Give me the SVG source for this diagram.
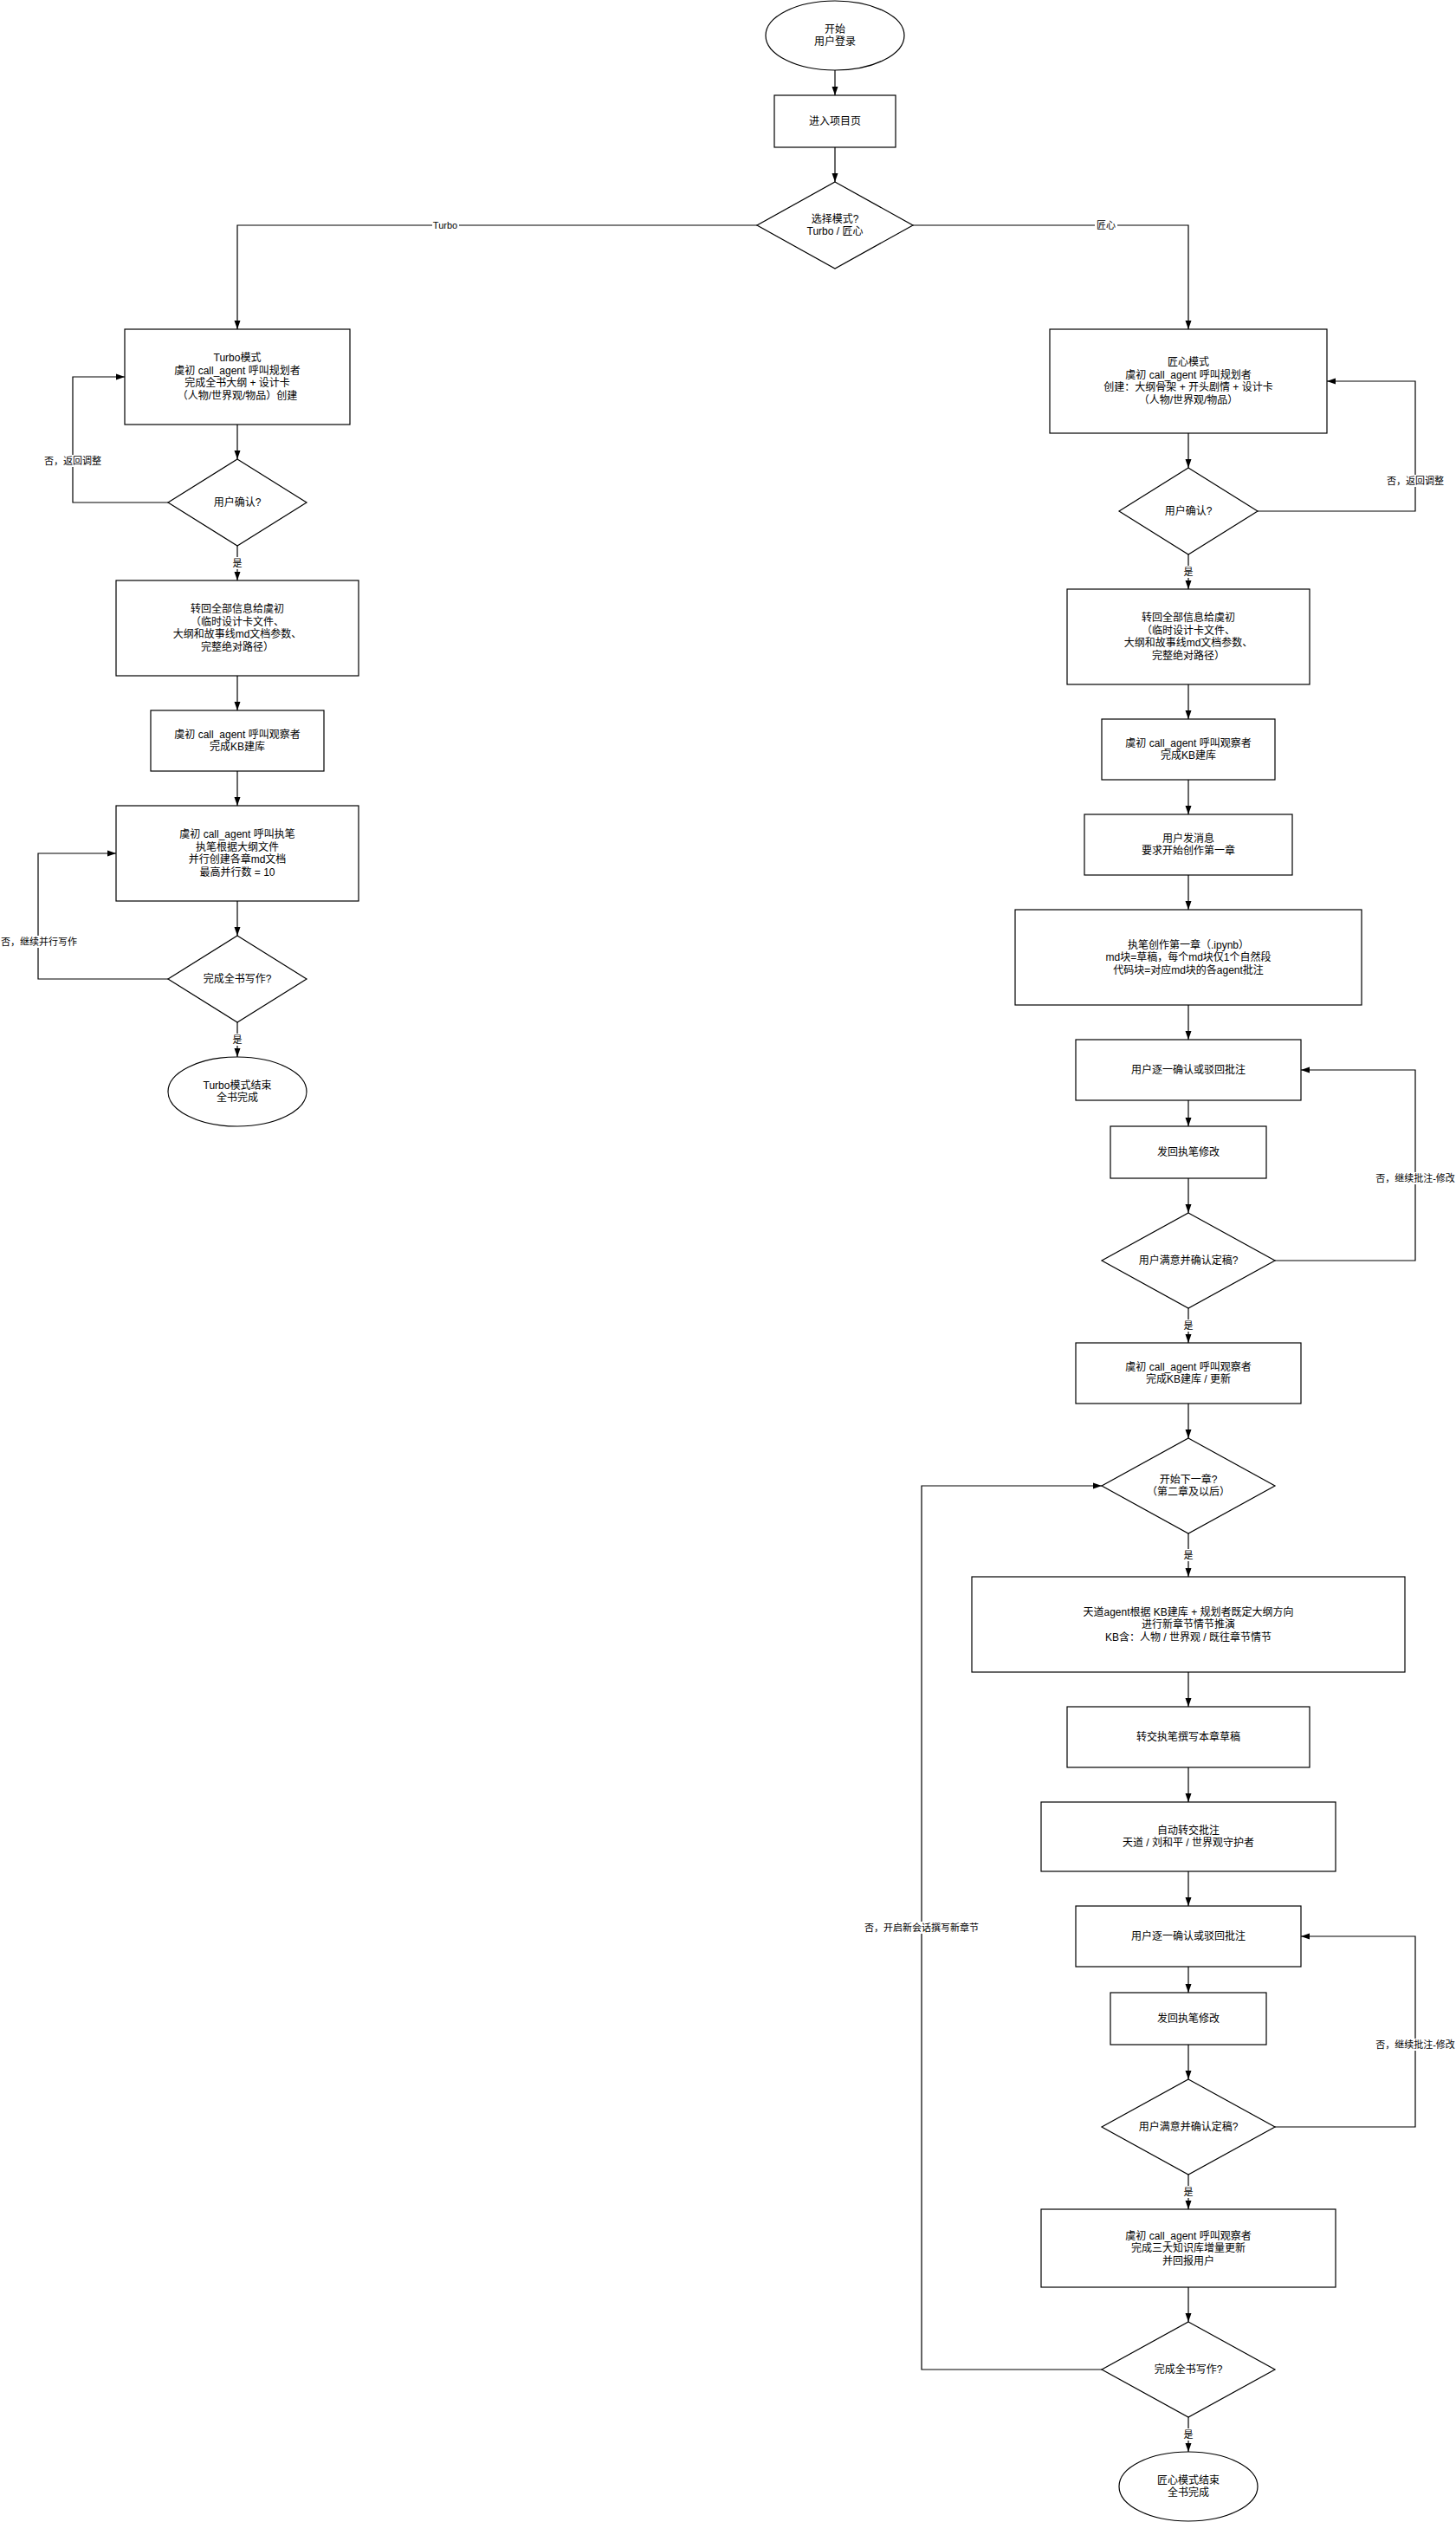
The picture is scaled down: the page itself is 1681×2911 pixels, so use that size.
<svg xmlns="http://www.w3.org/2000/svg" width="1681" height="2911" viewBox="0 0 1681 2911">
<defs>
<style>
.n{fill:#fff;stroke:#000;stroke-width:1.2}
.t{font-family:"Liberation Sans","Noto Sans CJK SC",sans-serif;font-size:12px;fill:#000;text-anchor:middle;dominant-baseline:central}
.c{fill:none;stroke:#000;stroke-width:1.2;marker-end:url(#arr)}
.cl{fill:none;stroke:#000;stroke-width:1.2}
.lb{fill:#fff;stroke:none}
.lt{font-family:"Liberation Sans","Noto Sans CJK SC",sans-serif;font-size:11px;fill:#000;text-anchor:middle;dominant-baseline:central}
</style>
<marker id="arr" viewBox="0 0 10 10" refX="10" refY="5" markerWidth="10" markerHeight="10" markerUnits="userSpaceOnUse" orient="auto"><path d="M0,1.5 L10,5 L0,8.5 z" fill="#000"/></marker>
</defs>
<rect width="1681" height="2911" fill="#fff"/>

<g id="connectors">
<path class="c" d="M964,81 V110"/>
<path class="c" d="M964,170 V210"/>
<path class="c" d="M874,260 H274 V380"/>
<path class="c" d="M1054,260 H1372 V380"/>
<path class="c" d="M274,490 V530"/>
<path class="c" d="M274,630 V670"/>
<path class="c" d="M194,580 H84 V435 H144"/>
<path class="c" d="M274,780 V820"/>
<path class="c" d="M274,890 V930"/>
<path class="c" d="M274,1040 V1080"/>
<path class="c" d="M274,1180 V1220"/>
<path class="c" d="M194,1130 H44 V985 H134"/>
<path class="c" d="M1372,500 V540"/>
<path class="c" d="M1372,640 V680"/>
<path class="c" d="M1452,590 H1634 V440 H1532"/>
<path class="c" d="M1372,790 V830"/>
<path class="c" d="M1372,900 V940"/>
<path class="c" d="M1372,1010 V1050"/>
<path class="c" d="M1372,1160 V1200"/>
<path class="c" d="M1372,1270 V1300"/>
<path class="c" d="M1372,1360 V1400"/>
<path class="c" d="M1472,1455 H1634 V1235 H1502"/>
<path class="c" d="M1372,1510 V1550"/>
<path class="c" d="M1372,1620 V1660"/>
<path class="c" d="M1372,1770 V1820"/>
<path class="c" d="M1372,1930 V1970"/>
<path class="c" d="M1372,2040 V2080"/>
<path class="c" d="M1372,2160 V2200"/>
<path class="c" d="M1372,2270 V2300"/>
<path class="c" d="M1372,2360 V2400"/>
<path class="c" d="M1472,2455 H1634 V2235 H1502"/>
<path class="c" d="M1372,2510 V2550"/>
<path class="c" d="M1372,2640 V2680"/>
<path class="c" d="M1272,2735 H1064 V1715 H1272"/>
<path class="c" d="M1372,2790 V2830"/>

<rect class="lb" x="499" y="253" width="31" height="14"/><text class="lt" x="514" y="260">Turbo</text>
<rect class="lb" x="1264" y="253" width="26" height="14"/><text class="lt" x="1277" y="260">匠心</text>
<rect class="lb" x="267" y="643" width="14" height="14"/><text class="lt" x="274" y="650">是</text>
<rect class="lb" x="51" y="525" width="67" height="14"/><text class="lt" x="84" y="532">否，返回调整</text>
<rect class="lb" x="267" y="1193" width="14" height="14"/><text class="lt" x="274" y="1200">是</text>
<rect class="lb" x="1" y="1080" width="89" height="14"/><text class="lt" x="45" y="1087">否，继续并行写作</text>
<rect class="lb" x="1365" y="653" width="14" height="14"/><text class="lt" x="1372" y="660">是</text>
<rect class="lb" x="1600" y="548" width="68" height="14"/><text class="lt" x="1634" y="555">否，返回调整</text>
<rect class="lb" x="1592" y="1353" width="84" height="14"/><text class="lt" x="1634" y="1360">否，继续批注-修改</text>
<rect class="lb" x="1365" y="1523" width="14" height="14"/><text class="lt" x="1372" y="1530">是</text>
<rect class="lb" x="1365" y="1788" width="14" height="14"/><text class="lt" x="1372" y="1795">是</text>
<rect class="lb" x="1592" y="2353" width="84" height="14"/><text class="lt" x="1634" y="2360">否，继续批注-修改</text>
<rect class="lb" x="1365" y="2523" width="14" height="14"/><text class="lt" x="1372" y="2530">是</text>
<rect class="lb" x="997" y="2218" width="134" height="14"/><text class="lt" x="1064" y="2225">否，开启新会话撰写新章节</text>
<rect class="lb" x="1365" y="2803" width="14" height="14"/><text class="lt" x="1372" y="2810">是</text>
</g>

<g id="start"><ellipse class="n" cx="964" cy="41" rx="80" ry="40"/><text class="t"><tspan x="964" y="33.75">开始</tspan><tspan x="964" y="48.25">用户登录</tspan></text></g>
<g id="project"><rect class="n" x="894" y="110" width="140" height="60"/><text class="t" x="964" y="140">进入项目页</text></g>
<g id="mode"><path class="n" d="M964,210 L1054,260 L964,310 L874,260 Z"/><text class="t"><tspan x="964" y="252.75">选择模式?</tspan><tspan x="964" y="267.25">Turbo / 匠心</tspan></text></g>

<g id="turbo-plan"><rect class="n" x="144" y="380" width="260" height="110"/><text class="t"><tspan x="274" y="413.25">Turbo模式</tspan><tspan x="274" y="427.75">虞初 call_agent 呼叫规划者</tspan><tspan x="274" y="442.25">完成全书大纲 + 设计卡</tspan><tspan x="274" y="456.75">（人物/世界观/物品）创建</tspan></text></g>
<g id="turbo-confirm"><path class="n" d="M274,530 L354,580 L274,630 L194,580 Z"/><text class="t" x="274" y="580">用户确认?</text></g>
<g id="turbo-return"><rect class="n" x="134" y="670" width="280" height="110"/><text class="t"><tspan x="274" y="703.25">转回全部信息给虞初</tspan><tspan x="274" y="717.75">（临时设计卡文件、</tspan><tspan x="274" y="732.25">大纲和故事线md文档参数、</tspan><tspan x="274" y="746.75">完整绝对路径）</tspan></text></g>
<g id="turbo-observer"><rect class="n" x="174" y="820" width="200" height="70"/><text class="t"><tspan x="274" y="847.75">虞初 call_agent 呼叫观察者</tspan><tspan x="274" y="862.25">完成KB建库</tspan></text></g>
<g id="turbo-writer"><rect class="n" x="134" y="930" width="280" height="110"/><text class="t"><tspan x="274" y="963.25">虞初 call_agent 呼叫执笔</tspan><tspan x="274" y="977.75">执笔根据大纲文件</tspan><tspan x="274" y="992.25">并行创建各章md文档</tspan><tspan x="274" y="1006.75">最高并行数 = 10</tspan></text></g>
<g id="turbo-done"><path class="n" d="M274,1080 L354,1130 L274,1180 L194,1130 Z"/><text class="t" x="274" y="1130">完成全书写作?</text></g>
<g id="turbo-end"><ellipse class="n" cx="274" cy="1260" rx="80" ry="40"/><text class="t"><tspan x="274" y="1252.75">Turbo模式结束</tspan><tspan x="274" y="1267.25">全书完成</tspan></text></g>

<g id="jx-plan"><rect class="n" x="1212" y="380" width="320" height="120"/><text class="t"><tspan x="1372" y="418.25">匠心模式</tspan><tspan x="1372" y="432.75">虞初 call_agent 呼叫规划者</tspan><tspan x="1372" y="447.25">创建：大纲骨架 + 开头剧情 + 设计卡</tspan><tspan x="1372" y="461.75">（人物/世界观/物品）</tspan></text></g>
<g id="jx-confirm"><path class="n" d="M1372,540 L1452,590 L1372,640 L1292,590 Z"/><text class="t" x="1372" y="590">用户确认?</text></g>
<g id="jx-return"><rect class="n" x="1232" y="680" width="280" height="110"/><text class="t"><tspan x="1372" y="713.25">转回全部信息给虞初</tspan><tspan x="1372" y="727.75">（临时设计卡文件、</tspan><tspan x="1372" y="742.25">大纲和故事线md文档参数、</tspan><tspan x="1372" y="756.75">完整绝对路径）</tspan></text></g>
<g id="jx-observer"><rect class="n" x="1272" y="830" width="200" height="70"/><text class="t"><tspan x="1372" y="857.75">虞初 call_agent 呼叫观察者</tspan><tspan x="1372" y="872.25">完成KB建库</tspan></text></g>
<g id="jx-msg"><rect class="n" x="1252" y="940" width="240" height="70"/><text class="t"><tspan x="1372" y="967.75">用户发消息</tspan><tspan x="1372" y="982.25">要求开始创作第一章</tspan></text></g>
<g id="jx-ch1"><rect class="n" x="1172" y="1050" width="400" height="110"/><text class="t"><tspan x="1372" y="1090.5">执笔创作第一章（.ipynb）</tspan><tspan x="1372" y="1105">md块=草稿，每个md块仅1个自然段</tspan><tspan x="1372" y="1119.5">代码块=对应md块的各agent批注</tspan></text></g>
<g id="jx-review1"><rect class="n" x="1242" y="1200" width="260" height="70"/><text class="t" x="1372" y="1235">用户逐一确认或驳回批注</text></g>
<g id="jx-revise1"><rect class="n" x="1282" y="1300" width="180" height="60"/><text class="t" x="1372" y="1330">发回执笔修改</text></g>
<g id="jx-ok1"><path class="n" d="M1372,1400 L1472,1455 L1372,1510 L1272,1455 Z"/><text class="t" x="1372" y="1455">用户满意并确认定稿?</text></g>
<g id="jx-kb1"><rect class="n" x="1242" y="1550" width="260" height="70"/><text class="t"><tspan x="1372" y="1577.75">虞初 call_agent 呼叫观察者</tspan><tspan x="1372" y="1592.25">完成KB建库 / 更新</tspan></text></g>
<g id="jx-next"><path class="n" d="M1372,1660 L1472,1715 L1372,1770 L1272,1715 Z"/><text class="t"><tspan x="1372" y="1707.75">开始下一章?</tspan><tspan x="1372" y="1722.25">（第二章及以后）</tspan></text></g>
<g id="jx-tiandao"><rect class="n" x="1122" y="1820" width="500" height="110"/><text class="t"><tspan x="1372" y="1860.5">天道agent根据 KB建库 + 规划者既定大纲方向</tspan><tspan x="1372" y="1875">进行新章节情节推演</tspan><tspan x="1372" y="1889.5">KB含：人物 / 世界观 / 既往章节情节</tspan></text></g>
<g id="jx-draft"><rect class="n" x="1232" y="1970" width="280" height="70"/><text class="t" x="1372" y="2005">转交执笔撰写本章草稿</text></g>
<g id="jx-annot"><rect class="n" x="1202" y="2080" width="340" height="80"/><text class="t"><tspan x="1372" y="2112.75">自动转交批注</tspan><tspan x="1372" y="2127.25">天道 / 刘和平 / 世界观守护者</tspan></text></g>
<g id="jx-review2"><rect class="n" x="1242" y="2200" width="260" height="70"/><text class="t" x="1372" y="2235">用户逐一确认或驳回批注</text></g>
<g id="jx-revise2"><rect class="n" x="1282" y="2300" width="180" height="60"/><text class="t" x="1372" y="2330">发回执笔修改</text></g>
<g id="jx-ok2"><path class="n" d="M1372,2400 L1472,2455 L1372,2510 L1272,2455 Z"/><text class="t" x="1372" y="2455">用户满意并确认定稿?</text></g>
<g id="jx-kb2"><rect class="n" x="1202" y="2550" width="340" height="90"/><text class="t"><tspan x="1372" y="2580.5">虞初 call_agent 呼叫观察者</tspan><tspan x="1372" y="2595">完成三大知识库增量更新</tspan><tspan x="1372" y="2609.5">并回报用户</tspan></text></g>
<g id="jx-done"><path class="n" d="M1372,2680 L1472,2735 L1372,2790 L1272,2735 Z"/><text class="t" x="1372" y="2735">完成全书写作?</text></g>
<g id="jx-end"><ellipse class="n" cx="1372" cy="2870" rx="80" ry="40"/><text class="t"><tspan x="1372" y="2862.75">匠心模式结束</tspan><tspan x="1372" y="2877.25">全书完成</tspan></text></g>
</svg>
